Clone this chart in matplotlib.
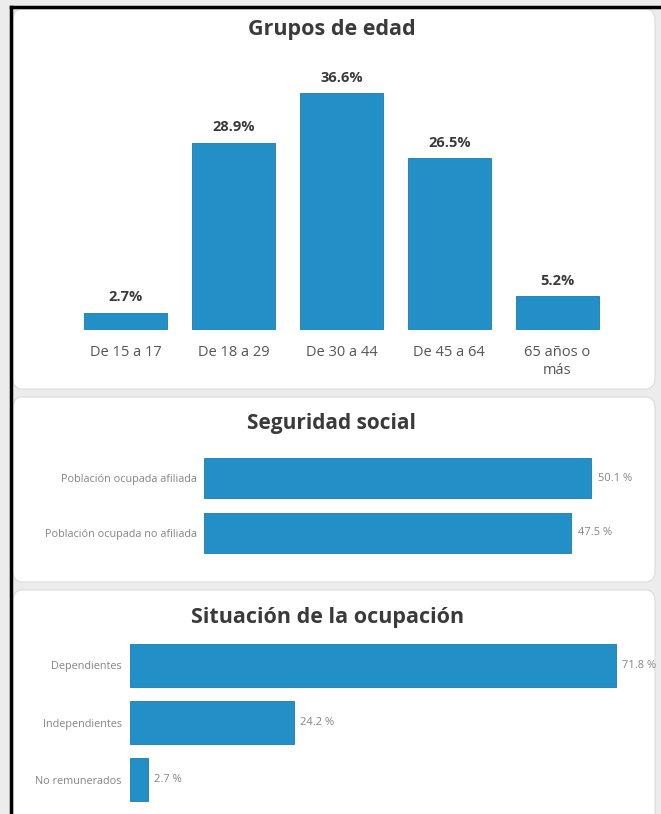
import matplotlib
matplotlib.use('Agg')
import matplotlib.pyplot as plt
from matplotlib.patches import FancyBboxPatch
from matplotlib.lines import Line2D

# ── data ──────────────────────────────────────────────────────────────────────
edad_cats = ['De 15 a 17', 'De 18 a 29', 'De 30 a 44', 'De 45 a 64', '65 años o\nmás']
edad_vals = [2.7, 28.9, 36.6, 26.5, 5.2]

ss_cats = ['Población ocupada afiliada', 'Población ocupada no afiliada']
ss_vals = [50.1, 47.5]

ocup_cats = ['Dependientes', 'Independientes', 'No remunerados']
ocup_vals = [71.8, 24.2, 2.7]

# ── palette ───────────────────────────────────────────────────────────────────
BAR   = '#2290c6'
EDGE  = '#1b7aa9'
TITLE = '#3a3a3a'
LBL   = '#555555'
SMALL = '#858585'
BG    = '#ececec'

plt.rcParams['font.family'] = ['Open Sans', 'DejaVu Sans']

W, H = 661, 814
fig = plt.figure(figsize=(W / 100, H / 100), dpi=100, facecolor=BG)


def px(x0, y0, x1, y1):
    """pixel box (top-left origin) -> figure rect"""
    return [x0 / W, 1 - y1 / H, (x1 - x0) / W, (y1 - y0) / H]


def card(x0, y0, x1, y1):
    r = px(x0, y0, x1, y1)
    fig.patches.append(FancyBboxPatch((r[0], r[1]), r[2], r[3],
                                      boxstyle='round,pad=0,rounding_size=0.014',
                                      transform=fig.transFigure, facecolor='white',
                                      edgecolor='#dcdcdc', lw=0.8, zorder=-5))


card(13, 9, 655, 389)
card(13, 397, 655, 582)
card(13, 590, 655, 830)

# black frame on left and top
fig.lines.append(Line2D([11 / W, 11 / W], [0, 1 - 7 / H], transform=fig.transFigure,
                        color='black', lw=2.5, zorder=-4))
fig.lines.append(Line2D([11 / W, 1], [1 - 7 / H, 1 - 7 / H], transform=fig.transFigure,
                        color='black', lw=2.5, zorder=-4))


def clean(ax):
    ax.set_facecolor('none')
    ax.set_zorder(2)
    for s in ax.spines.values():
        s.set_visible(False)


# ── Grupos de edad ────────────────────────────────────────────────────────────
fig.text(332 / W, 1 - 30 / H, 'Grupos de edad', ha='center', va='center',
         fontsize=15.5, fontweight='bold', color=TITLE)
ax1 = fig.add_axes(px(72, 60, 611, 330))
clean(ax1)
ax1.bar(range(len(edad_vals)), edad_vals, width=0.77, color=BAR, edgecolor=EDGE, lw=0.6)
ax1.set_xlim(-0.5, len(edad_vals) - 0.5)
ax1.set_ylim(0, 41.7)
ax1.set_yticks([])
ax1.set_xticks(range(len(edad_cats)))
ax1.set_xticklabels(edad_cats, fontsize=10.5, color=LBL, linespacing=1.25)
ax1.tick_params(axis='x', length=0, pad=11)
for i, v in enumerate(edad_vals):
    ax1.text(i, v + 1.3, f'{v:.1f}%', ha='center', va='bottom',
             fontsize=10.5, fontweight='bold', color=TITLE)

# ── Seguridad social ──────────────────────────────────────────────────────────
fig.text(331 / W, 1 - 423 / H, 'Seguridad social', ha='center', va='center',
         fontsize=15, fontweight='bold', color=TITLE)
ax2 = fig.add_axes(px(204, 451, 629, 560))
clean(ax2)
ax2.barh(range(len(ss_vals)), ss_vals, height=0.74, color=BAR, edgecolor=EDGE, lw=0.6)
ax2.set_xlim(0, 55)
ax2.set_ylim(len(ss_vals) - 0.5, -0.5)
ax2.set_xticks([])
ax2.set_yticks(range(len(ss_cats)))
ax2.set_yticklabels(ss_cats, fontsize=7.8, color=SMALL)
ax2.tick_params(axis='y', length=0, pad=5)
for i, v in enumerate(ss_vals):
    ax2.text(v + 0.9, i, f'{v:.1f} %', ha='left', va='center', fontsize=8, color=SMALL)

# ── Situación de la ocupación ─────────────────────────────────────────────────
fig.text(328 / W, 1 - 617 / H, 'Situación de la ocupación', ha='center', va='center',
         fontsize=15.5, fontweight='bold', color=TITLE)
ax3 = fig.add_axes(px(130, 637, 638, 808))
clean(ax3)
ax3.barh(range(len(ocup_vals)), ocup_vals, height=0.77, color=BAR, edgecolor=EDGE, lw=0.6)
ax3.set_xlim(0, 75)
ax3.set_ylim(len(ocup_vals) - 0.5, -0.5)
ax3.set_xticks([])
ax3.set_yticks(range(len(ocup_cats)))
ax3.set_yticklabels(ocup_cats, fontsize=7.8, color=SMALL)
ax3.tick_params(axis='y', length=0, pad=6)
for i, v in enumerate(ocup_vals):
    ax3.text(v + 0.9, i, f'{v:.1f} %', ha='left', va='center', fontsize=8, color=SMALL)

fig.savefig('out.png', dpi=100, facecolor=BG)
